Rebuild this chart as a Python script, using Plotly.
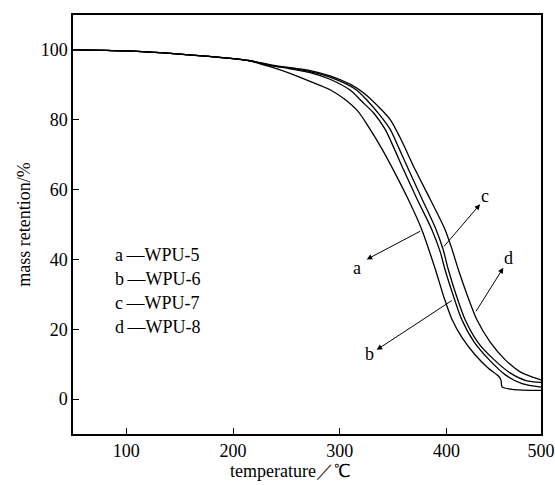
import plotly.graph_objects as go

# TGA curves: temperature (°C, axis units) vs mass retention (%)
temp_a = [50, 100, 150, 200, 216, 234.7, 253.4, 272.2, 290.9, 305.0, 317.2, 328.4, 339.7, 350.0, 364.1, 376.9, 389.4, 397.8, 405.3, 414.7, 426.9, 439.1, 449.4, 451.3, 452.2, 461.6, 488.7]
mass_a = [100, 99.7, 98.8, 97.5, 96.8, 95.2, 93.3, 91.0, 88.6, 85.8, 82.4, 77.3, 71.6, 65.8, 57.3, 48.6, 37.4, 29.1, 22.8, 17.6, 12.7, 8.9, 6.4, 5.3, 3.5, 2.8, 2.5]

temp_b = [50, 100, 150, 200, 216, 234.7, 253.4, 272.2, 290.9, 309.7, 320.9, 332.2, 342.5, 351.0, 359.7, 372.5, 386.3, 394.1, 398.7, 406.2, 414.4, 425.9, 440.0, 455.0, 471.0, 488.7]
mass_b = [100, 99.7, 98.8, 97.5, 96.9, 95.6, 94.6, 93.5, 91.6, 88.5, 85.2, 81.8, 77.3, 71.8, 65.8, 57.3, 48.6, 42.3, 37.1, 29.9, 22.8, 16.4, 11.3, 7.0, 4.4, 3.4]

temp_c = [50, 100, 150, 200, 216, 234.7, 253.4, 272.2, 290.9, 314.4, 325.6, 336.9, 347.2, 355.6, 364.4, 377.2, 390.3, 396.9, 401.8, 409.1, 417.5, 429.7, 444.7, 459.7, 474.7, 488.7]
mass_c = [100, 99.7, 98.8, 97.5, 96.9, 95.6, 94.8, 93.8, 92.2, 88.8, 85.6, 81.6, 77.3, 71.8, 65.8, 57.3, 48.6, 42.9, 37.1, 29.9, 22.8, 16.2, 11.3, 7.5, 5.3, 4.8]

temp_d = [50, 100, 150, 200, 216, 234.7, 253.4, 272.2, 290.9, 309.7, 322.8, 335.9, 347.2, 356.6, 370.6, 384.7, 398.7, 405.3, 411.2, 419.4, 428.5, 440.9, 455.0, 469.1, 478.4, 488.7]
mass_d = [100, 99.7, 98.8, 97.5, 96.9, 95.8, 94.9, 94.1, 92.6, 90.2, 87.6, 83.9, 80.1, 74.9, 65.8, 57.3, 48.6, 42.9, 37.1, 29.9, 22.8, 16.4, 11.3, 7.8, 6.6, 5.5]

series_labels = ["a", "b", "c", "d"]
series_names = ["WPU-5", "WPU-6", "WPU-7", "WPU-8"]

# x-axis ticks as printed on the chart (the last one sits at the right frame)
x_tickvals = [100, 200, 300, 400, 488.7]
x_ticktext = ["100", "200", "300", "400", "500"]
y_tickvals = [0, 20, 40, 60, 80, 100]

x_title = "temperature\uff0f\u2103"
y_title = "mass retention/%"

# pointer arrows: (label, tail on curve x, y, head x, y, label x, y)
pointers = [
    ("a", 376.9, 48.3, 325.3, 40.0, 316.0, 37.6),
    ("c", 396.6, 43.3, 431.6, 55.8, 436.3, 58.1),
    ("b", 406.5, 28.5, 334.7, 14.1, 327.8, 13.0),
    ("d", 426.9, 24.7, 453.4, 37.6, 458.1, 40.5),
]

FONT = "Liberation Serif, Times New Roman, serif"

fig = go.Figure()
for tx, my, nm in [(temp_a, mass_a, series_names[0]), (temp_b, mass_b, series_names[1]),
                   (temp_c, mass_c, series_names[2]), (temp_d, mass_d, series_names[3])]:
    fig.add_trace(go.Scatter(
        x=tx, y=my, mode="lines", name=nm,
        line=dict(color="black", width=1.3, shape="spline", smoothing=0.8),
        showlegend=False,
    ))

annotations = []
for lab, x0, y0, x1, y1, lx, ly in pointers:
    annotations.append(dict(
        x=x1, y=y1, ax=x0, ay=y0, xref="x", yref="y", axref="x", ayref="y",
        text="", showarrow=True, arrowhead=2, arrowsize=1.1, arrowwidth=1,
        arrowcolor="black",
    ))
    annotations.append(dict(
        x=lx, y=ly, xref="x", yref="y", text=lab, showarrow=False,
        font=dict(family=FONT, size=18, color="black"),
    ))

# key listing the sample names
for i, (lab, nm) in enumerate(zip(series_labels, series_names)):
    annotations.append(dict(
        x=0.085, y=0.427 - i * 0.0573, xref="paper", yref="paper",
        xanchor="left", yanchor="middle",
        text=f"{lab}\u2009\u2014{nm}", showarrow=False,
        font=dict(family=FONT, size=18, color="black"),
    ))

# x-axis title, set a little left of the frame centre
annotations.append(dict(
    x=0.464, y=-0.088, xref="paper", yref="paper",
    xanchor="center", yanchor="middle", text=x_title, showarrow=False,
    borderpad=0,
    font=dict(family=FONT, size=18, color="black"),
))

fig.update_layout(
    width=555, height=485,
    margin=dict(l=73, r=14, t=15, b=51),
    paper_bgcolor="white", plot_bgcolor="white",
    font=dict(family=FONT, size=18, color="black"),
    annotations=annotations,
)
fig.update_xaxes(
    range=[50, 488.7], tickvals=x_tickvals, ticktext=x_ticktext,
    ticks="inside", ticklen=6, tickwidth=1, tickcolor="black",
    showline=True, linecolor="black", linewidth=1.5, mirror=True,
    showgrid=False, zeroline=False, automargin=False,
)
fig.update_yaxes(
    range=[-10, 110], tickvals=y_tickvals,
    ticks="inside", ticklen=6, tickwidth=1, tickcolor="black",
    showline=True, linecolor="black", linewidth=1.5, mirror=True,
    showgrid=False, zeroline=False, automargin=False,
    title=dict(text=y_title, standoff=5, font=dict(family=FONT, size=18)),
)

fig.write_html("out.html")
